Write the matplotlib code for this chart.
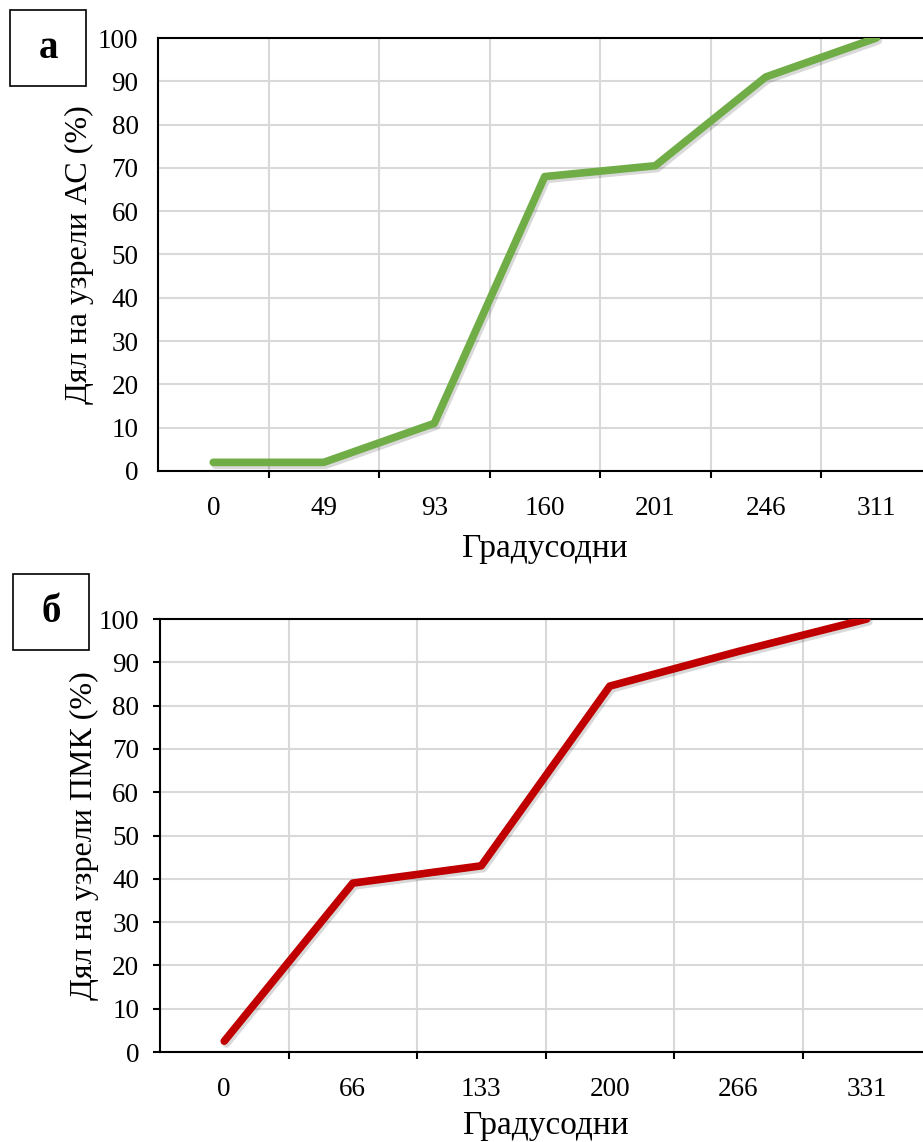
import matplotlib
matplotlib.use("Agg")
import matplotlib.pyplot as plt
import matplotlib.patheffects as pe
from matplotlib.patches import Rectangle

# panel a
cats_a = ["0", "49", "93", "160", "201", "246", "311"]
vals_a = [2, 2, 11, 68, 70.5, 91, 100]
# panel b
cats_b = ["0", "66", "133", "200", "266", "331"]
vals_b = [2.5, 39, 43, 84.5, 92.5, 100]

plt.rcParams["font.family"] = ["Liberation Serif", "DejaVu Serif"]

W, H = 923, 1142
fig = plt.figure(figsize=(W / 100, H / 100), dpi=100)


def panel(rect, cats, vals, color, ylabel, yticks_out, letter, box,
          ypad, xpad):
    ax = fig.add_axes(rect)
    x = list(range(len(cats)))
    ax.plot(x, vals, color=color, lw=5.5, solid_capstyle="round",
            solid_joinstyle="round", zorder=3,
            path_effects=[pe.SimpleLineShadow(offset=(1.5, -2), shadow_color="k",
                                              alpha=0.15),
                          pe.Normal()])
    ax.set_xlim(-0.5, len(cats) - 0.5)
    ax.set_ylim(0, 100)
    ax.set_yticks(range(0, 101, 10))
    ax.set_xticks(x)
    ax.set_xticklabels(cats)
    ax.set_xticks([i + 0.5 for i in range(len(cats))], minor=True)
    ax.grid(axis="y", color="#d9d9d9", lw=1.5, zorder=0)
    ax.grid(axis="x", which="minor", color="#d9d9d9", lw=1.5, zorder=0)
    ax.tick_params(axis="x", which="major", length=0, pad=18, labelsize=19.5)
    ax.tick_params(axis="x", which="minor", length=5, width=1.5, direction="out")
    if yticks_out:
        ax.tick_params(axis="y", length=5, width=1.5, pad=10, labelsize=19.5)
    else:
        ax.tick_params(axis="y", length=0, pad=14, labelsize=19.5)
    for s in ("left", "bottom", "top"):
        ax.spines[s].set_linewidth(1.5)
        ax.spines[s].set_color("black")
    ax.spines["right"].set_visible(False)
    ax.set_axisbelow(True)
    ax.set_xlabel("Градусодни", fontsize=24, labelpad=xpad)
    ax.set_ylabel(ylabel, fontsize=23, labelpad=ypad)
    bx, by, bw, bh = box
    fig.add_artist(Rectangle((bx / W, 1 - (by + bh) / H), bw / W, bh / H,
                             transform=fig.transFigure, fill=False,
                             edgecolor="black", lw=1.2))
    fig.text((bx + bw / 2) / W, 1 - (by + bh / 2) / H, letter,
             fontsize=28, fontweight="bold", ha="center", va="center")
    return ax


panel([158 / W, 1 - 471 / H, (931.5 - 158) / W, 433 / H], cats_a, vals_a,
      "#70ad47", "Дял на узрели АС (%)", False, "а", (10, 10, 76, 76), 3, 9)
panel([160 / W, 1 - 1052 / H, (931 - 160) / W, 433 / H], cats_b, vals_b,
      "#c00000", "Дял на узрели ПМК (%)", True, "б", (13, 574, 76, 76), 0, 6)

fig.savefig("out.png", dpi=100)
